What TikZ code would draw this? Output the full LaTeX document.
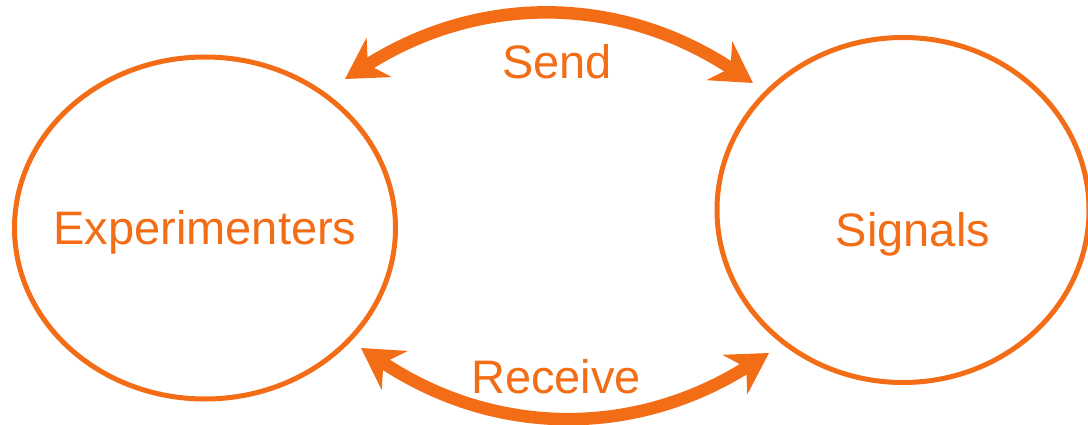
\documentclass[tikz,border=0pt]{standalone}
\usepackage{fontspec}
\setmainfont{Liberation Sans}
\usetikzlibrary{positioning}
\usetikzlibrary{shapes.geometric,arrows.meta}
\definecolor{signalorange}{RGB}{243,108,22}
\tikzset{
    roleEllipse/.style={
		draw=signalorange, line width=5pt, ellipse, inner sep=0pt
	}
}
\tikzset{
    flowArrow/.style={
		draw=signalorange, line width=12.5pt,
		{Stealth[length=40pt,width=46pt,inset=13pt]}-{Stealth[length=40pt,width=46pt,inset=13pt]}
	}
}
\tikzset{
    flowLabel/.style={text=signalorange, font=\fontsize{47}{56}\selectfont, inner sep=0pt}
}
\begin{document}
\begin{tikzpicture}[x=1pt,y=1pt]
			\useasboundingbox (0,0) rectangle (1088,424);
			\node[roleEllipse, minimum width=381pt, minimum height=342pt] (exp) at (205,196) {};
			\node[roleEllipse, minimum width=372pt, minimum height=345pt] (sig) at (903,214) {};
			\node[flowLabel] (explabel) at (205,192) {Experimenters};
			\node[flowLabel] (siglabel) at (913,190) {Signals};
			\coordinate (sendL) at (345,345);
			\coordinate (sendR) at (753,341);
			\coordinate (recvL) at (361,76);
			\coordinate (recvR) at (769,71);
			\draw[flowArrow] (sendL) to[bend left=33] (sendR);
			\draw[flowArrow] (recvL) to[bend right=33] (recvR);
			\node[flowLabel] (send) at (557,362) {Send};
			\node[flowLabel] (recv) at (556,47) {Receive};
		\end{tikzpicture}
\end{document}
